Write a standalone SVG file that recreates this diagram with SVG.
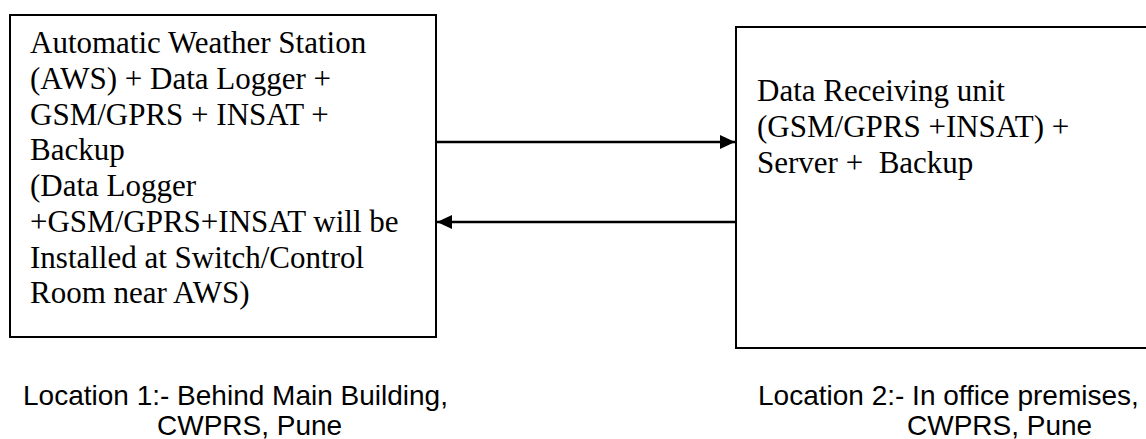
<svg xmlns="http://www.w3.org/2000/svg" width="1146" height="439" viewBox="0 0 1146 439">
<style>
.box{fill:#fff;stroke:#000;stroke-width:2}
.serif{font-family:"Liberation Serif","Times New Roman",serif;font-size:31px;fill:#000}
.sans{font-family:"Liberation Sans",Arial,sans-serif;font-size:28px;fill:#000}
.conn{stroke:#000;stroke-width:2.7;fill:none}
</style>
<defs>
<marker id="ah" viewBox="0 0 15 14" refX="15" refY="7" markerWidth="15" markerHeight="14" markerUnits="userSpaceOnUse" orient="auto">
<path d="M0,0 L15,7 L0,14 Z" fill="#000"/>
</marker>
</defs>
<rect width="1146" height="439" fill="#fff"/>
<g id="node-aws">
<rect class="box" x="10" y="15" width="426" height="322"/>
<text class="serif" x="30">
<tspan x="30" y="53">Automatic Weather Station</tspan>
<tspan x="30" y="89">(AWS) + Data Logger +</tspan>
<tspan x="30" y="125">GSM/GPRS + INSAT +</tspan>
<tspan x="30" y="160">Backup</tspan>
<tspan x="30" y="196">(Data Logger</tspan>
<tspan x="30" y="232">+GSM/GPRS+INSAT will be</tspan>
<tspan x="30" y="268">Installed at Switch/Control</tspan>
<tspan x="30" y="303">Room near AWS)</tspan>
</text>
</g>
<g id="node-receiver">
<rect class="box" x="736" y="27" width="420" height="321"/>
<text class="serif">
<tspan x="757" y="101">Data Receiving unit</tspan>
<tspan x="757" y="137">(GSM/GPRS +INSAT) +</tspan>
<tspan x="757" y="173" xml:space="preserve">Server +  Backup</tspan>
</text>
</g>
<g id="label-location1">
<text class="sans" x="23" y="405">Location 1:- Behind Main Building,</text>
<text class="sans" x="157" y="435">CWPRS, Pune</text>
</g>
<g id="label-location2">
<text class="sans" x="758" y="405">Location 2:- In office premises,</text>
<text class="sans" x="907" y="435">CWPRS, Pune</text>
</g>
<g id="connectors">
<line class="conn" x1="436" y1="142" x2="735" y2="142" marker-end="url(#ah)"/>
<line class="conn" x1="737" y1="222" x2="437" y2="222" marker-end="url(#ah)"/>
</g>
</svg>
